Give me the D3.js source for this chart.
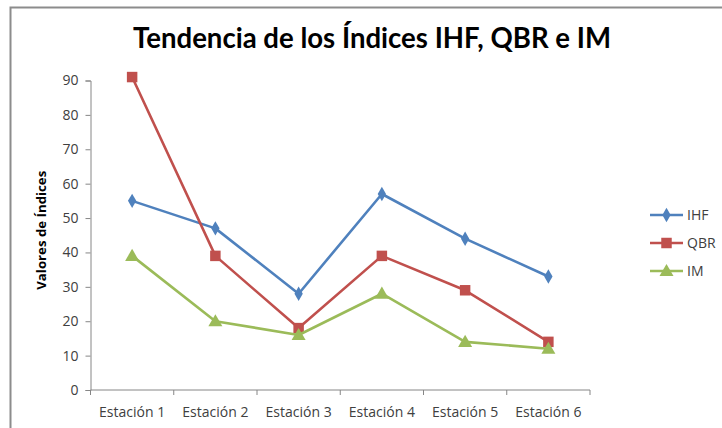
<!DOCTYPE html>
<html lang="es">
<head>
  <meta charset="UTF-8">
  <title>Tendencia de los Índices IHF, QBR e IM</title>
  <style>
    body { margin: 0; background: #fff; }
    svg { display: block; font-family: "Open Sans", sans-serif; }
    .tick text { fill: #404040; font-size: 14px; font-family: "Open Sans", sans-serif; }
  </style>
</head>
<body>
  <svg id="chart" width="722" height="428"></svg>

  <script src="https://d3js.org/d3.v7.min.js"></script>
  <script>
    // Data
    const estaciones = ["Estación 1", "Estación 2", "Estación 3", "Estación 4", "Estación 5", "Estación 6"];
    const ihf = [55, 47, 28, 57, 44, 33];
    const qbr = [91, 39, 18, 39, 29, 14];
    const im = [39, 20, 16, 28, 14, 12];
    const yTicks = [0, 10, 20, 30, 40, 50, 60, 70, 80, 90];
    const seriesNames = ["IHF", "QBR", "IM"];

    const colors = { IHF: "#4F81BD", QBR: "#C0504D", IM: "#9BBB59" };
    const symbols = { IHF: d3.symbolDiamond, QBR: d3.symbolSquare, IM: d3.symbolTriangle };
    const symbolSize = { IHF: 60, QBR: 110, IM: 85 };

    const series = [
      { name: "IHF", values: ihf },
      { name: "QBR", values: qbr },
      { name: "IM", values: im }
    ];

    const svg = d3.select("#chart");

    // outer frame (clipped by the window on right and bottom)
    svg.append("rect")
      .attr("x", 10.5).attr("y", 7.5)
      .attr("width", 740).attr("height", 450)
      .attr("fill", "#fff")
      .attr("stroke", "#8c8c8c")
      .attr("stroke-width", 2);

    const margin = { left: 90.5, right: 590, top: 80.5, bottom: 390 };

    const x = d3.scaleBand()
      .domain(estaciones)
      .range([margin.left, margin.right]);

    const y = d3.scaleLinear()
      .domain([0, 90])
      .range([margin.bottom, margin.top]);

    // title
    svg.append("text")
      .attr("x", 372)
      .attr("y", 48)
      .attr("text-anchor", "middle")
      .attr("font-family", "Lato, sans-serif")
      .attr("font-size", 28)
      .attr("font-weight", "bold")
      .attr("fill", "#000")
      .attr("textLength", 478)
      .attr("lengthAdjust", "spacingAndGlyphs")
      .text("Tendencia de los Índices IHF, QBR e IM");

    // y axis
    const yAxis = svg.append("g")
      .attr("transform", `translate(${margin.left},0)`)
      .call(d3.axisLeft(y).tickValues(yTicks).tickSize(5).tickPadding(7));
    yAxis.select(".domain").attr("stroke", "#868686");
    yAxis.selectAll(".tick line").attr("stroke", "#868686");

    // x axis with ticks at the band edges
    const xAxis = svg.append("g")
      .attr("transform", `translate(0,${margin.bottom})`);
    xAxis.append("line")
      .attr("x1", margin.left).attr("x2", margin.right)
      .attr("stroke", "#868686");
    const edges = estaciones.map(d => x(d)).concat([x.range()[1]]);
    xAxis.selectAll(".edge")
      .data(edges)
      .enter().append("line")
      .attr("x1", d => d).attr("x2", d => d)
      .attr("y1", 0).attr("y2", 5)
      .attr("stroke", "#868686");
    xAxis.selectAll(".lbl")
      .data(estaciones)
      .enter().append("text")
      .attr("x", d => x(d) + x.bandwidth() / 2)
      .attr("y", 27)
      .attr("text-anchor", "middle")
      .attr("font-size", 14)
      .attr("fill", "#404040")
      .text(d => d);

    // y axis title
    svg.append("text")
      .attr("transform", `translate(46,${(margin.top + margin.bottom) / 2 - 5}) rotate(-90)`)
      .attr("text-anchor", "middle")
      .attr("font-size", 12)
      .attr("font-weight", "bold")
      .attr("textLength", 119)
      .attr("lengthAdjust", "spacingAndGlyphs")
      .text("Valores de Índices");

    const line = d3.line()
      .x((d, i) => x(estaciones[i]) + x.bandwidth() / 2)
      .y(d => y(d));

    series.forEach(s => {
      svg.append("path")
        .datum(s.values)
        .attr("fill", "none")
        .attr("stroke", colors[s.name])
        .attr("stroke-width", 2.6)
        .attr("stroke-linejoin", "round")
        .attr("d", line);

      svg.selectAll(".pt-" + s.name)
        .data(s.values)
        .enter().append("path")
        .attr("transform", (d, i) => `translate(${x(estaciones[i]) + x.bandwidth() / 2},${y(d) + (s.name === "IM" ? 1 : 0)})`)
        .attr("d", d3.symbol().type(symbols[s.name]).size(symbolSize[s.name]))
        .attr("fill", colors[s.name]);
    });

    // legend
    const legend = svg.append("g").attr("transform", "translate(650,215)");
    seriesNames.forEach((name, i) => {
      const g = legend.append("g").attr("transform", `translate(0,${i * 28})`);
      g.append("line")
        .attr("x1", 0).attr("x2", 33)
        .attr("stroke", colors[name])
        .attr("stroke-width", 2.6);
      g.append("path")
        .attr("transform", `translate(16.5,${name === "IM" ? 1 : 0})`)
        .attr("d", d3.symbol().type(symbols[name]).size(symbolSize[name]))
        .attr("fill", colors[name]);
      g.append("text")
        .attr("x", 37)
        .attr("y", 5)
        .attr("font-size", 14)
        .attr("fill", "#404040")
        .text(name);
    });
  </script>
</body>
</html>
